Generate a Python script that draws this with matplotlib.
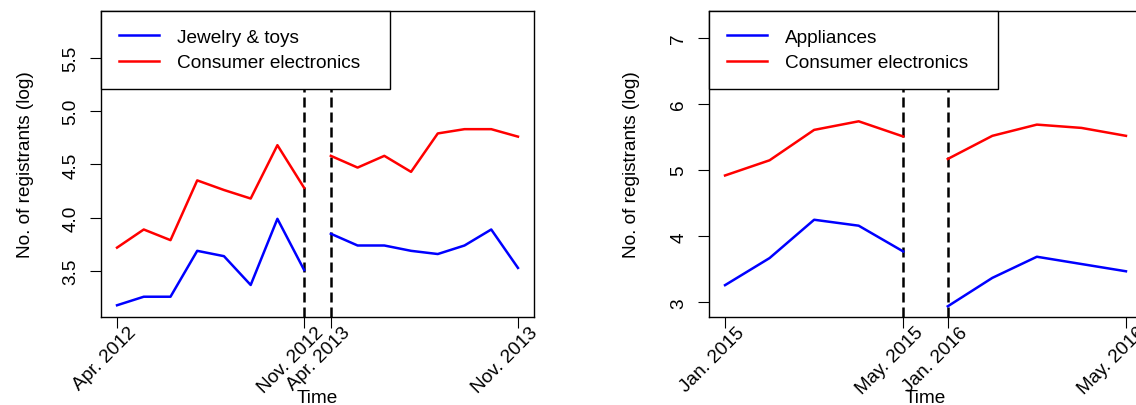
import numpy as np
import matplotlib.pyplot as plt
from matplotlib.transforms import ScaledTranslation

plt.rcParams['font.family'] = ['Liberation Sans', 'DejaVu Sans']
plt.rcParams['font.size'] = 13.7

# left panel: monthly values, two periods
jewelry_2012 = [3.18, 3.26, 3.26, 3.69, 3.64, 3.37, 3.99, 3.51]
jewelry_2013 = [3.85, 3.74, 3.74, 3.69, 3.66, 3.74, 3.89, 3.53]
electronics_2012 = [3.72, 3.89, 3.79, 4.35, 4.26, 4.18, 4.68, 4.28]
electronics_2013 = [4.58, 4.47, 4.58, 4.43, 4.79, 4.83, 4.83, 4.76]
left_ticks = [1, 8, 9, 16]
left_labels = ["Apr. 2012", "Nov. 2012", "Apr. 2013", "Nov. 2013"]

# right panel
appliances_2015 = [3.26, 3.67, 4.25, 4.16, 3.77]
appliances_2016 = [2.94, 3.37, 3.69, 3.58, 3.47]
electronics_2015 = [4.92, 5.15, 5.61, 5.74, 5.51]
electronics_2016 = [5.17, 5.52, 5.69, 5.64, 5.52]
right_ticks = [1, 5, 6, 10]
right_labels = ["Jan. 2015", "May. 2015", "Jan. 2016", "May. 2016"]


def panel(ax, a1, a2, b1, b2, name_a, ticks, labels, ylim, yticks):
    n1, n2 = len(a1), len(a2)
    x1 = np.arange(1, n1 + 1)
    x2 = np.arange(n1 + 1, n1 + n2 + 1)
    lw = 1.8
    ax.plot(x1, a1, color='#0000ff', lw=lw, label=name_a)
    ax.plot(x2, a2, color='#0000ff', lw=lw)
    ax.plot(x1, b1, color='#ff0000', lw=lw, label='Consumer electronics')
    ax.plot(x2, b2, color='#ff0000', lw=lw)
    for xv in (n1, n1 + 1):
        ax.axvline(xv, color='black', lw=1.8, linestyle=(0, (4, 2)), zorder=1)

    n = n1 + n2
    pad = 0.04 * (n - 1)
    ax.set_xlim(1 - pad, n + pad)
    ax.set_ylim(*ylim)
    ax.set_yticks(yticks)
    ax.set_xticks(ticks)
    ax.set_xticklabels([])
    ax.tick_params(direction='out', length=8, width=0.8, color='black')
    ax.tick_params(axis='y', labelrotation=90, pad=7.5)
    for lab in ax.get_yticklabels():
        lab.set_va('center')
    for s in ax.spines.values():
        s.set_linewidth(1.0)
        s.set_color('black')

    # rotated date labels under the ticks
    off = ScaledTranslation(12.2 / 72, -9 / 72, ax.figure.dpi_scale_trans)
    tr = ax.get_xaxis_transform() + off
    for t, lab in zip(ticks, labels):
        ax.text(t, 0, lab, transform=tr, rotation=45, rotation_mode='anchor',
                ha='right', va='center', clip_on=False)

    ax.text(0.5, -0.262, 'Time', transform=ax.transAxes, ha='center', va='center')
    ax.set_ylabel('No. of registrants (log)')

    leg = ax.legend(loc='upper left', bbox_to_anchor=(0, 0, 0.667, 1), mode='expand',
                    borderaxespad=0, fancybox=False, edgecolor='black', framealpha=1,
                    handlelength=2.1, handletextpad=0.95, borderpad=0.95, labelspacing=0.42)
    leg.get_frame().set_linewidth(1.0)
    leg.set_zorder(5)


fig = plt.figure(figsize=(11.36, 4.06), dpi=100)
ax1 = fig.add_axes([101 / 1136, 88 / 406, 433 / 1136, 306.3 / 406])
ax2 = fig.add_axes([709 / 1136, 88 / 406, 433 / 1136, 306.3 / 406])

panel(ax1, jewelry_2012, jewelry_2013, electronics_2012, electronics_2013,
      'Jewelry & toys', left_ticks, left_labels, (3.07, 5.94), [3.5, 4.0, 4.5, 5.0, 5.5])
panel(ax2, appliances_2015, appliances_2016, electronics_2015, electronics_2016,
      'Appliances', right_ticks, right_labels, (2.778, 7.414), [3, 4, 5, 6, 7])

ax1.yaxis.set_label_coords(-0.155, 0.5)
ax2.yaxis.set_label_coords(-0.159, 0.5)

fig.savefig('out.png', dpi=100)
